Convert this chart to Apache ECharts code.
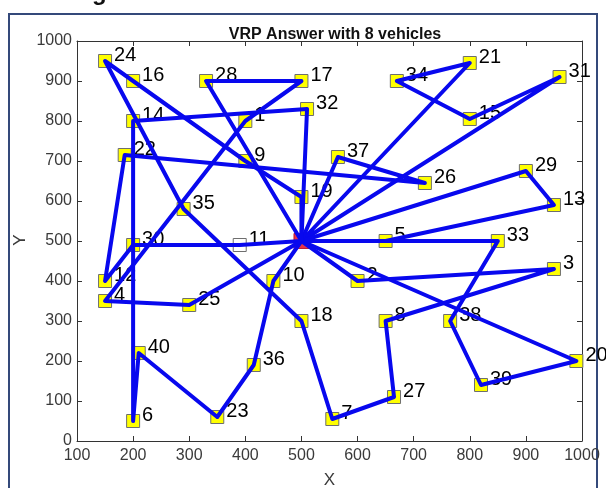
<!DOCTYPE html>
<html>
<head>
<meta charset="utf-8">
<title>VRP Answer with 8 vehicles</title>
<script src="https://cdn.jsdelivr.net/npm/echarts@6/dist/echarts.min.js"></script>
<style>
  html, body { margin: 0; padding: 0; background: #fff; }
  #main { width: 606px; height: 488px; }
</style>
</head>
<body>
<div id="main"></div>
<script>
// 节点坐标，下标即编号，0 为车场
var nodeX = [500,400,600,950,150,650,200,555,650,400,450,390,150,950,200,800,200,500,500,500,990,800,185,350,150,300,720,665,330,900,200,960,510,850,670,290,415,565,765,820,210];
var nodeY = [500,800,400,430,350,500,50,55,300,700,400,490,400,590,800,805,900,900,300,610,200,945,715,60,950,340,645,110,900,675,490,910,830,500,900,580,190,710,300,140,220];

// 各车路线（节点编号）
var route1 = [0,21,34,15,31,0];
var route2 = [0,29,13,5,0];
var route3 = [0,33,38,39,20,0];
var route4 = [0,10,36,23,40,6,14,32,0];
var route5 = [0,11,30,12,22,26,37,0];
var route6 = [0,28,17,1,4,25,0];
var route7 = [0,19,9,16,24,35,18,7,27,8,3,2,0];
var routes = [route1, route2, route3, route4, route5, route6, route7];

var xTicks = {min: 100, max: 1000, interval: 100};
var yTicks = {min: 0, max: 1000, interval: 100};

var fontName = 'Liberation Sans';
var axisColor = '#333';

var myChart = echarts.init(document.getElementById('main'));

var customers = [];
for (var i = 1; i < nodeX.length; i++) {
    var pt = {value: [nodeX[i], nodeY[i], i]};
    if (i == 11) {
        pt.itemStyle = {color: '#fff'};// 11号点是白底
    }
    customers.push(pt);
}

function axisBase(pos, showLabel) {
    return {
        type: 'value',
        position: pos,
        splitLine: {show: false},
        axisLine: {show: true, onZero: false, lineStyle: {color: axisColor, width: 1}},
        axisTick: {show: true, inside: true, length: 5, lineStyle: {color: axisColor}},
        axisLabel: {
            show: showLabel, color: '#3a3a3a', fontSize: 16, fontFamily: fontName,
            formatter: function(v) { return String(v); }//不要千分位
        }
    };
}

var xBottom = axisBase('bottom', true);
Object.assign(xBottom, xTicks, {name: 'X', nameLocation: 'middle', nameGap: 31,
    nameTextStyle: {color: '#3a3a3a', fontSize: 17, fontFamily: fontName}});
xBottom.axisLabel.margin = 7;
var xTop = axisBase('top', false);
Object.assign(xTop, xTicks);

var yLeft = axisBase('left', true);
Object.assign(yLeft, yTicks);
yLeft.axisLabel.margin = 5;
var yRight = axisBase('right', false);
Object.assign(yRight, yTicks);

var series = [];
// 客户点：黄色方块
series.push({
    type: 'scatter',
    z: 1,
    symbol: 'rect',
    symbolSize: 13,
    itemStyle: {color: '#ffff00', borderColor: '#6e6e6e', borderWidth: 1, opacity: 1},
    label: {
        show: true,
        position: 'right',
        distance: 2,
        offset: [0, -6],
        color: '#000',
        fontSize: 20,
        fontFamily: fontName,
        formatter: function(p) { return p.value[2]; }
    },
    data: customers
});
// 车场：红色方块
series.push({
    type: 'scatter',
    z: 1,
    symbol: 'rect',
    symbolSize: 15,
    itemStyle: {color: '#e0001b', borderColor: '#b00018', borderWidth: 1},
    data: [[nodeX[0], nodeY[0]]]
});
// 路线
for (var r = 0; r < routes.length; r++) {
    var pts = [];
    for (var k = 0; k < routes[r].length; k++) {
        pts.push([nodeX[routes[r][k]], nodeY[routes[r][k]]]);
    }
    series.push({
        type: 'line',
        z: 2,
        showSymbol: false,
        symbol: 'none',
        silent: true,
        lineStyle: {color: '#0808ee', width: 4, join: 'round'},
        data: pts
    });
}

var option = {
    backgroundColor: '#fff',
    animation: false,
    title: {
        text: 'VRP Answer with 8 vehicles',
        left: 330,
        top: 22,
        textAlign: 'center',
        textStyle: {color: '#111', fontSize: 16, fontWeight: 'bold', fontFamily: fontName}
    },
    grid: {left: 77, right: 24, top: 41, bottom: 47, outerBoundsMode: 'none', containLabel: false},
    xAxis: [xBottom, xTop],
    yAxis: [yLeft, yRight],
    graphic: [
        {//外框
            type: 'rect',
            shape: {x: 9, y: 14, width: 588, height: 500},
            style: {fill: 'none', stroke: '#34497a', lineWidth: 2},
            silent: true
        },
        {//顶部被截掉的字
            type: 'text',
            x: 92,
            y: -7,
            style: {text: 'g', fill: '#111', font: 'bold 24px Liberation Sans', verticalAlign: 'middle'},
            silent: true
        },
        {//y轴名称
            type: 'text',
            x: 20,
            y: 240,
            rotation: Math.PI / 2,
            style: {text: 'Y', fill: '#3a3a3a', font: '17px Liberation Sans', align: 'center', verticalAlign: 'middle'},
            silent: true
        }
    ],
    series: series
};
myChart.setOption(option);
</script>
</body>
</html>
